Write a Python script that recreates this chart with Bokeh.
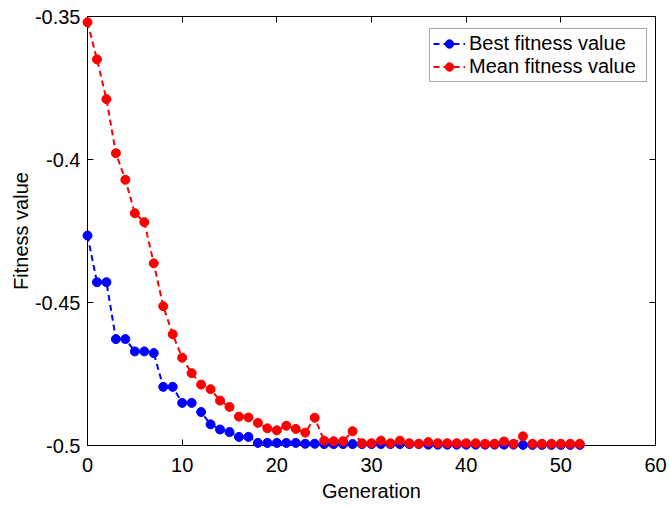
from bokeh.plotting import figure
from bokeh.models import (LinearAxis, Legend, LegendItem, FixedTicker, Range1d,
                          CustomJSTickFormatter)
from bokeh.embed import file_html
from bokeh.resources import INLINE

generations = list(range(0, 53))

best_fitness = [
    -0.4266, -0.4429, -0.4429, -0.4628, -0.4628, -0.4671, -0.4671, -0.4677,
    -0.4795, -0.4795, -0.4851, -0.4851, -0.4883, -0.4926, -0.4944, -0.4953,
    -0.4970, -0.4970, -0.4991, -0.4991, -0.4991, -0.4991, -0.4991, -0.4994,
    -0.4994, -0.4995, -0.4995, -0.4995, -0.4995, -0.4995, -0.4995, -0.4995,
    -0.4995, -0.4995, -0.4995, -0.4995, -0.4997, -0.4997, -0.4997, -0.4997,
    -0.4997, -0.4997, -0.4997, -0.4997, -0.4997, -0.4997, -0.4998, -0.4998,
    -0.4998, -0.4998, -0.4998, -0.4998, -0.4998,
]

mean_fitness = [
    -0.3520, -0.3650, -0.3789, -0.3978, -0.4071, -0.4188, -0.4219, -0.4363,
    -0.4513, -0.4611, -0.4693, -0.4747, -0.4787, -0.4803, -0.4843, -0.4865,
    -0.4899, -0.4902, -0.4921, -0.4940, -0.4947, -0.4931, -0.4942, -0.4955,
    -0.4903, -0.4983, -0.4985, -0.4985, -0.4950, -0.4992, -0.4992, -0.4983,
    -0.4992, -0.4983, -0.4992, -0.4994, -0.4988, -0.4992, -0.4992, -0.4992,
    -0.4992, -0.4992, -0.4994, -0.4994, -0.4986, -0.4994, -0.4968, -0.4994,
    -0.4994, -0.4994, -0.4994, -0.4994, -0.4994,
]

x_ticks = [0, 10, 20, 30, 40, 50, 60]
y_ticks = [-0.5, -0.45, -0.4, -0.35]
y_tick_labels = {-0.5: "-0.5", -0.45: "-0.45", -0.4: "-0.4", -0.35: "-0.35"}

FONT = "Liberation Sans"
FS = "20px"

p = figure(width=669, height=506, output_backend="svg", toolbar_location=None,
           x_range=Range1d(0, 60), y_range=Range1d(-0.5, -0.35),
           min_border_left=87, min_border_right=14, min_border_top=16,
           min_border_bottom=61)
p.xgrid.visible = False
p.ygrid.visible = False
p.outline_line_color = "black"
p.outline_line_width = 1
p.background_fill_color = "white"
p.border_fill_color = "white"

def style_axis(ax, show_labels=True):
    ax.axis_line_color = "black"
    ax.major_tick_line_color = "black"
    ax.major_tick_in = 6
    ax.major_tick_out = 0
    ax.minor_tick_line_color = None
    ax.major_label_text_font = FONT
    ax.major_label_text_font_size = FS
    ax.major_label_text_color = "black"
    ax.axis_label_text_font = FONT
    ax.axis_label_text_font_size = FS
    ax.axis_label_text_font_style = "normal"
    ax.axis_label_text_color = "black"
    if not show_labels:
        ax.formatter = CustomJSTickFormatter(code="return ''")
        ax.major_label_standoff = 0

p.xaxis.ticker = FixedTicker(ticks=x_ticks)
p.yaxis.ticker = FixedTicker(ticks=y_ticks)
p.yaxis.major_label_overrides = y_tick_labels
p.xaxis.axis_label = "Generation"
p.yaxis.axis_label = "Fitness value"
style_axis(p.xaxis[0])
style_axis(p.yaxis[0])
p.xaxis.major_label_standoff = 12
p.xaxis.axis_label_standoff = 5
p.yaxis.major_label_standoff = 7
p.yaxis.axis_label_standoff = 0

top_ax = LinearAxis(ticker=FixedTicker(ticks=x_ticks))
right_ax = LinearAxis(ticker=FixedTicker(ticks=y_ticks))
style_axis(top_ax, False)
style_axis(right_ax, False)
p.add_layout(top_ax, "above")
p.add_layout(right_ax, "right")

BLUE = "#0000ff"
RED = "#ff0000"

bl = p.line(generations, best_fitness, line_color=BLUE, line_width=2, line_dash="6 4")
bs = p.scatter(generations, best_fitness, size=9, fill_color=BLUE, line_color=BLUE, level="overlay")
rl = p.line(generations, mean_fitness, line_color=RED, line_width=2, line_dash="6 4")
rs = p.scatter(generations, mean_fitness, size=9, fill_color=RED, line_color=RED, level="overlay")

legend = Legend(items=[
    LegendItem(label="Best fitness value", renderers=[bl, bs]),
    LegendItem(label="Mean fitness value", renderers=[rl, rs]),
], location=(342, 363))
legend.label_text_font = FONT
legend.label_text_font_size = FS
legend.label_text_color = "black"
legend.glyph_width = 32
legend.glyph_height = 21
legend.label_height = 21
legend.label_width = 174
legend.label_standoff = 4
legend.spacing = 0
legend.padding = 3
legend.margin = 0
legend.border_line_color = "#555555"
legend.border_line_width = 1
legend.background_fill_alpha = 1.0
p.add_layout(legend)

open("out.html", "w").write(file_html(p, INLINE))
